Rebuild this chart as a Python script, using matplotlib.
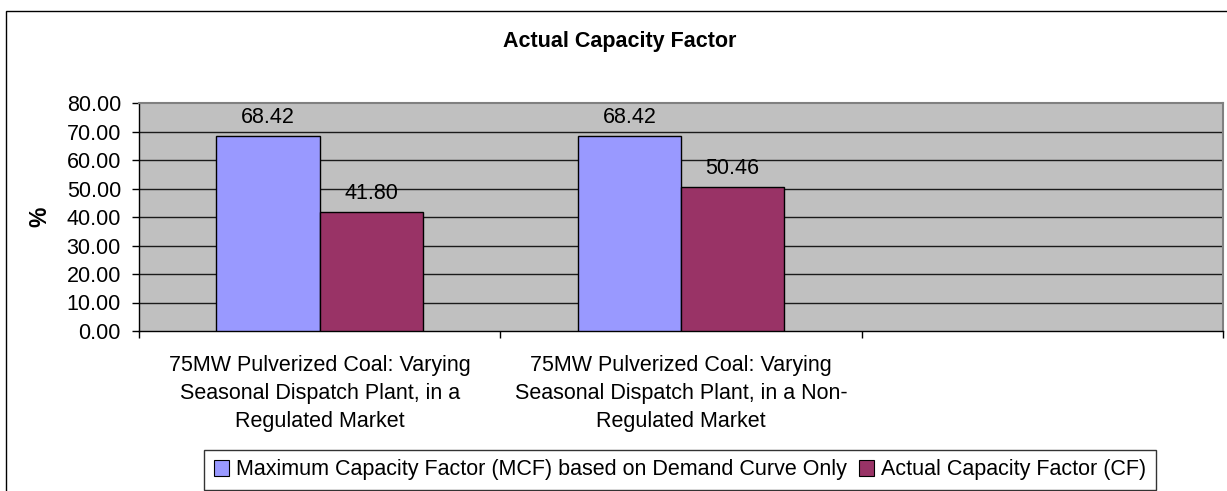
import numpy as np
import matplotlib.pyplot as plt
from matplotlib.patches import Rectangle, Patch

plt.rcParams['font.family'] = ['Liberation Sans', 'DejaVu Sans']

# Chart data
categories = [
    "75MW Pulverized Coal: Varying\nSeasonal Dispatch Plant, in a\nRegulated Market",
    "75MW Pulverized Coal: Varying\nSeasonal Dispatch Plant, in a Non-\nRegulated Market",
]
n_slots = 3  # third category slot is left empty
mcf = [68.42, 68.42]
cf = [41.80, 50.46]
series_names = ["Maximum Capacity Factor (MCF) based on Demand Curve Only",
                "Actual Capacity Factor (CF)"]
colors = ["#9999FF", "#993366"]
yticks = np.arange(0, 81, 10)

FS = 15.5
W, H = 1227, 491
fig = plt.figure(figsize=(W / 100, H / 100), dpi=100)

# outer chart frame
fig.patches.append(Rectangle((6 / W, -0.2), 1.2, 1 - 11 / H + 0.2,
                             transform=fig.transFigure, fill=False,
                             edgecolor="black", linewidth=1.0))

left, right, top, bottom = 139, 1223, 103, 331
ax = fig.add_axes([left / W, 1 - bottom / H, (right - left) / W, (bottom - top) / H])
ax.set_facecolor("#C0C0C0")

width = 1 / 3.5
centers = np.arange(len(categories)) + 0.5
b1 = ax.bar(centers - width / 2, mcf, width, color=colors[0], edgecolor="black",
            linewidth=1.0, zorder=3)
b2 = ax.bar(centers + width / 2, cf, width, color=colors[1], edgecolor="black",
            linewidth=1.0, zorder=3)

for bars in (b1, b2):
    for rect in bars:
        h = rect.get_height()
        ax.annotate(f"{h:.2f}", (rect.get_x() + rect.get_width() / 2, h),
                    xytext=(0, 9.5), textcoords="offset points",
                    ha="center", va="baseline", fontsize=FS, zorder=4)

ax.set_xlim(0, n_slots)
ax.set_ylim(0, 80)
ax.set_yticks(yticks)
ax.set_yticklabels([f"{v:.2f}" for v in yticks], fontsize=FS)
for v in yticks[1:-1]:
    ax.axhline(v, color="#1a1a1a", linewidth=1.0, zorder=1)

# category labels sit between boundary ticks
ax.set_xticks(np.arange(n_slots + 1))
ax.set_xticklabels([])
ax.tick_params(axis="both", direction="out", length=5, width=1, color="black")
ax.tick_params(axis="y", pad=8)
for c, lab in zip(centers, categories):
    ax.text(c, -0.105, lab, transform=ax.get_xaxis_transform(), ha="center",
            va="top", fontsize=FS, linespacing=1.44)

for s in ("left", "bottom"):
    ax.spines[s].set_color("black")
    ax.spines[s].set_linewidth(1.0)
for s in ("top", "right"):
    ax.spines[s].set_color("#808080")
    ax.spines[s].set_linewidth(1.5)

fig.text(40 / W, 1 - 217 / H, "%", rotation=90, ha="center", va="center",
         fontsize=FS + 1, fontweight="bold")
fig.text(620 / W, 1 - 42 / H, "Actual Capacity Factor", ha="center", va="center",
         fontsize=FS, fontweight="bold")

handles = [Patch(facecolor=c, edgecolor="black", linewidth=0.8) for c in colors]
leg = fig.legend(handles, series_names, ncol=2, loc="center",
                 bbox_to_anchor=(680 / W, 1 - 470 / H), fontsize=FS,
                 frameon=True, fancybox=False, edgecolor="black",
                 handlelength=0.7, handleheight=0.7, handletextpad=0.3,
                 columnspacing=0.6, borderpad=0.45, borderaxespad=0)
leg.get_frame().set_linewidth(1.0)

fig.savefig("out.png", dpi=100)
